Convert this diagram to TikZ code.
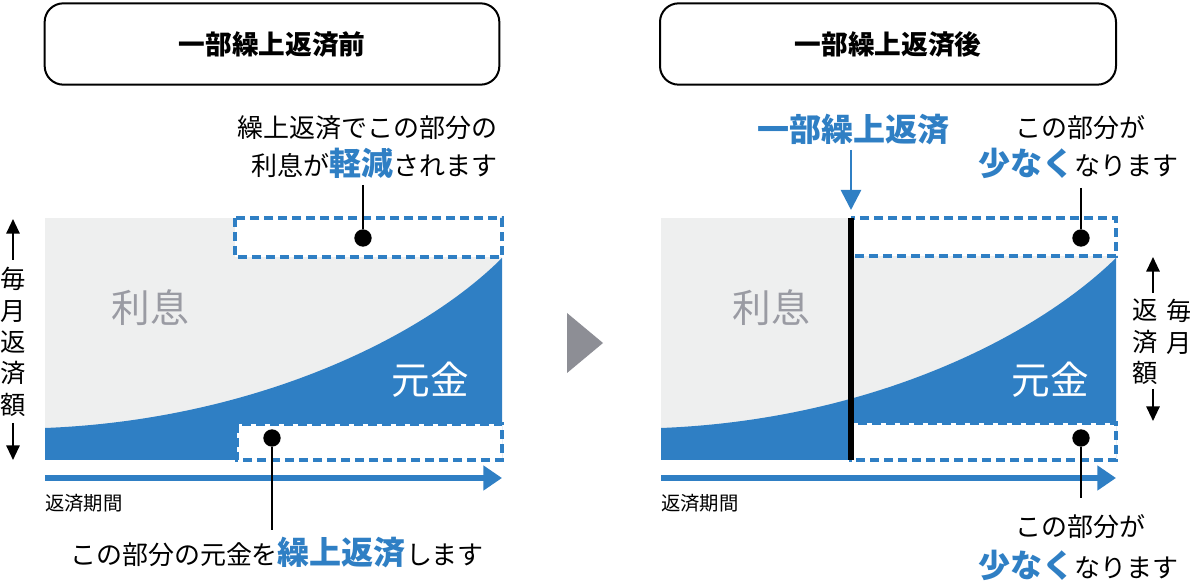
\documentclass[tikz,border=0pt]{standalone}
\usepackage{fontspec}
\setmainfont{Noto Sans CJK JP}
\usetikzlibrary{arrows.meta}
\definecolor{bl}{HTML}{2F7FC4}
\definecolor{gr}{HTML}{EEEFEF}
\definecolor{gt}{HTML}{9A9BA3}
\definecolor{tri}{HTML}{8D8E95}
\tikzset{
 title/.style={draw=black,line width=1.5pt,rounded corners=14pt,font=\fontsize{20}{24}\selectfont\bfseries},
 lab/.style={font=\fontsize{19.5}{23}\selectfont,inner sep=0pt},
 dbox/.style={draw=bl,dash pattern=on 7pt off 3.5pt,line width=3pt,fill=white},
 dot/.style={circle,fill=black,inner sep=0pt,minimum size=13pt},
 lead/.style={line width=2pt},
 haxis/.style={bl,line width=5pt,-{Triangle[length=14pt,width=18pt]}},
 vax/.style={line width=1.5pt,-{Triangle[length=11pt,width=10pt]}},
}
\newcommand{\bb}[1]{{\fontsize{24}{26}\selectfont\bfseries\color{bl}#1}}
\begin{document}
\begin{tikzpicture}[x=0.75pt,y=-0.75pt]
\useasboundingbox (0,0) rectangle (1190,584);
% ---------- left ----------
\node[title,minimum width=341pt,minimum height=61pt] (t1) at (272,44) {一部繰上返済前};
\fill[gr] (45,218) rectangle (502,460);
\fill[bl] (45,460) -- (45,428) .. controls (250,420) and (420,340) .. (502,258) -- (502,460) -- cycle;
\draw[dbox] (235,218) rectangle (502,257);
\draw[dbox] (237,424) rectangle (502,460);
\node[lab,text=gt,font=\fontsize{29}{32}\selectfont] (ri1) at (150,308) {利息};
\node[lab,text=white,font=\fontsize{29}{32}\selectfont] (gk1) at (430,380) {元金};
\coordinate (ha1) at (45,478); \coordinate (hb1) at (502,478);
\draw[haxis] (ha1) -- (hb1);
\node[lab,anchor=west,font=\fontsize{14.5}{17}\selectfont] (kk1) at (45,503) {返済期間};
\node[lab,align=center,font=\fontsize{19}{23.5}\selectfont] (vt1) at (13,342) {毎\\月\\返\\済\\額};
\coordinate (va1) at (13,260); \coordinate (vb1) at (13,219);
\coordinate (vc1) at (13,423); \coordinate (vd1) at (13,460);
\draw[vax] (va1) -- (vb1); \draw[vax] (vc1) -- (vd1);
\node[lab,anchor=east] (c1) at (498,128) {繰上返済でこの部分の};
\node[lab,anchor=east] (c2) at (498,163) {利息が\bb{軽減}されます};
\node[dot] (d1) at (363,238) {};
\coordinate (l1) at (363,185);
\draw[lead] (l1) -- (d1);
\node[dot] (d2) at (272,438) {};
\coordinate (l2) at (272,530);
\draw[lead] (d2) -- (l2);
\node[lab] (c3) at (277,553) {この部分の元金を\bb{繰上返済}します};
% arrow
\fill[tri] (567,313) -- (603,343) -- (567,373) -- cycle;
% ---------- right ----------
\node[title,minimum width=342pt,minimum height=61pt] (t2) at (888,44) {一部繰上返済後};
\fill[gr] (661,218) rectangle (1116,460);
\fill[bl] (661,460) -- (661,428) .. controls (866,420) and (1032,340) .. (1116,258) -- (1116,460) -- cycle;
\draw[dbox] (851,218) rectangle (1116,256);
\draw[dbox] (851,423) rectangle (1116,460);
\coordinate (ka) at (851,218); \coordinate (kb) at (851,460);
\draw[line width=4pt] (ka) -- (kb);
\node[lab,text=gt,font=\fontsize{29}{32}\selectfont] (ri2) at (771,308) {利息};
\node[lab,text=white,font=\fontsize{29}{32}\selectfont] (gk2) at (1050,380) {元金};
\coordinate (ha2) at (661,478); \coordinate (hb2) at (1116,478);
\draw[haxis] (ha2) -- (hb2);
\node[lab,anchor=west,font=\fontsize{14.5}{17}\selectfont] (kk2) at (661,503) {返済期間};
\node[lab,font=\fontsize{24}{26}\selectfont\bfseries,text=bl] (ip) at (853,130) {一部繰上返済};
\coordinate (ia) at (851,150); \coordinate (ib) at (851,210);
\draw[bl,line width=2pt,-{Triangle[length=15pt,width=15pt]}] (ia) -- (ib);
\node[lab] (e1) at (1080,128) {この部分が};
\node[lab] (e2) at (1078,163) {\bb{少なく}なります};
\node[dot] (d3) at (1081,238) {};
\coordinate (l3) at (1081,188);
\draw[lead] (l3) -- (d3);
\node[dot] (d4) at (1081,438) {};
\coordinate (l4) at (1081,498);
\draw[lead] (d4) -- (l4);
\node[lab] (e3) at (1080,527) {この部分が};
\node[lab] (e4) at (1078,565) {\bb{少なく}なります};
\node[lab,align=center,font=\fontsize{19}{23.5}\selectfont] (vt2) at (1145,342) {返\\済\\額};
\node[lab,align=center,font=\fontsize{19}{23.5}\selectfont] (vt3) at (1179,327) {毎\\月};
\coordinate (va2) at (1153,293); \coordinate (vb2) at (1153,257);
\coordinate (vc2) at (1153,389); \coordinate (vd2) at (1153,421);
\draw[vax] (va2) -- (vb2); \draw[vax] (vc2) -- (vd2);
\end{tikzpicture}
\end{document}
